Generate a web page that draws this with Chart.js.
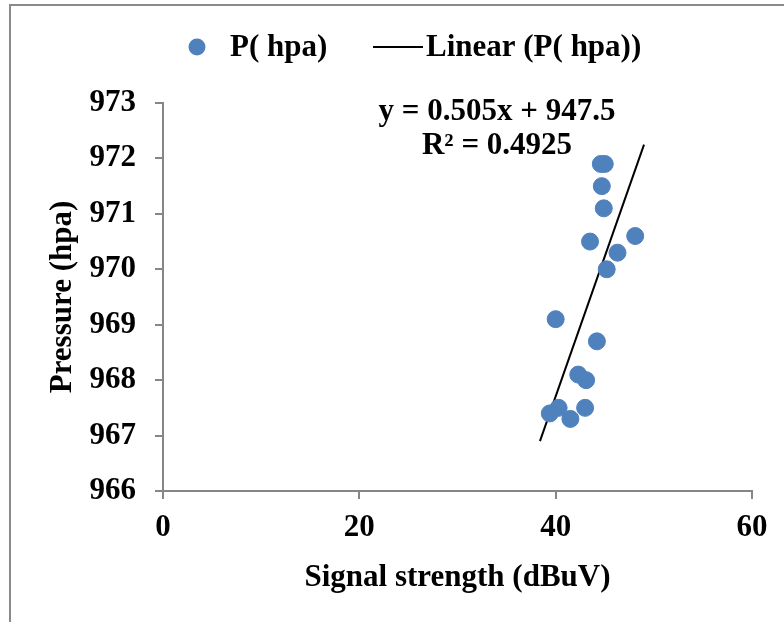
<!DOCTYPE html>
<html>
<head>
<meta charset="utf-8">
<script src="https://cdn.jsdelivr.net/npm/chart.js"></script>
<style>
  body { margin: 0; background: #fff; }
  #wrap { position: relative; width: 784px; height: 622px; overflow: hidden; }
  #frame { position: absolute; left: 9px; top: 4px; width: 900px; height: 700px;
           border-left: 2px solid #8a8a8a; border-top: 2px solid #8a8a8a; }
  canvas { position: absolute; left: 0; top: 0; }
</style>
</head>
<body>
<div id="wrap">
  <div id="frame"></div>
  <canvas id="chart" width="784" height="622"></canvas>
</div>
<script>
// signal strength (dBuV) vs pressure (hpa)
const signal = [44.6, 45.0, 44.7, 44.9, 43.5, 48.1, 46.3, 45.2, 40.0, 44.2, 42.3, 43.1, 40.3, 39.4, 41.5, 43.0];
const pressure = [971.9, 971.9, 971.5, 971.1, 970.5, 970.6, 970.3, 970.0, 969.1, 968.7, 968.1, 968.0, 967.5, 967.4, 967.3, 967.5];

// linear trendline ends
const trendX = [38.4, 49.0];
const trendY = [966.9, 972.25];

const equation = ['y = 0.505x + 947.5', 'R\u00b2 = 0.4925'];
const seriesName = 'P( hpa)';
const trendName = 'Linear (P( hpa))';

const FONT = 'Liberation Serif, Times New Roman, serif';
const axisGray = '#868686';
const blue = '#4F81BD';

const legendAndLabel = {
  id: 'legendAndLabel',
  afterDraw(chart) {
    const ctx = chart.ctx;
    ctx.save();
    ctx.font = 'bold 31px ' + FONT;
    ctx.fillStyle = '#000';
    ctx.textBaseline = 'middle';
    ctx.textAlign = 'left';

    // legend
    ctx.beginPath();
    ctx.arc(197, 47, 8.5, 0, Math.PI * 2);
    ctx.fillStyle = blue;
    ctx.fill();
    ctx.fillStyle = '#000';
    ctx.fillText(seriesName, 230, 48);
    ctx.beginPath();
    ctx.moveTo(373, 47);
    ctx.lineTo(423, 47);
    ctx.lineWidth = 2;
    ctx.strokeStyle = '#000';
    ctx.stroke();
    ctx.fillText(trendName, 426, 48);

    // trendline equation
    ctx.textAlign = 'center';
    ctx.fillText(equation[0], 497, 112);
    ctx.fillText(equation[1], 497, 146);
    ctx.restore();
  }
};

new Chart(document.getElementById('chart'), {
  type: 'scatter',
  data: {
    datasets: [{
      label: seriesName,
      data: signal.map((x, i) => ({ x: x, y: pressure[i] })),
      backgroundColor: blue,
      borderColor: blue,
      pointRadius: 8.5,
      borderWidth: 1
    }, {
      label: trendName,
      type: 'line',
      data: trendX.map((x, i) => ({ x: x, y: trendY[i] })),
      borderColor: '#000',
      borderWidth: 2,
      pointRadius: 0,
      showLine: true,
      fill: false
    }]
  },
  options: {
    responsive: false,
    devicePixelRatio: 1,
    animation: false,
    layout: { padding: { top: 103, right: 32, left: 0, bottom: 0 } },
    plugins: {
      legend: { display: false },
      tooltip: { enabled: false }
    },
    scales: {
      x: {
        type: 'linear',
        min: 0, max: 60,
        afterFit: s => { s.height = 131; },
        ticks: { stepSize: 20, padding: 10, color: '#000', font: { family: FONT, size: 31, weight: 'bold' } },
        grid: { drawOnChartArea: false, drawTicks: true, tickLength: 8, color: axisGray, lineWidth: 2 },
        border: { color: axisGray, width: 2 },
        title: {
          display: true, text: 'Signal strength (dBuV)', color: '#000',
          font: { family: FONT, size: 31, weight: 'bold' },
          padding: { top: 0, bottom: 25 }
        }
      },
      y: {
        min: 966, max: 973,
        afterFit: s => { s.width = 163; },
        ticks: { stepSize: 1, padding: 19, color: '#000', font: { family: FONT, size: 31, weight: 'bold' } },
        grid: { drawOnChartArea: false, drawTicks: true, tickLength: 8, color: axisGray, lineWidth: 2 },
        border: { color: axisGray, width: 2 },
        title: {
          display: true, text: 'Pressure (hpa)', color: '#000',
          font: { family: FONT, size: 31, weight: 'bold' },
          padding: { top: 44, bottom: 0 }
        }
      }
    }
  },
  plugins: [legendAndLabel]
});
</script>
</body>
</html>
